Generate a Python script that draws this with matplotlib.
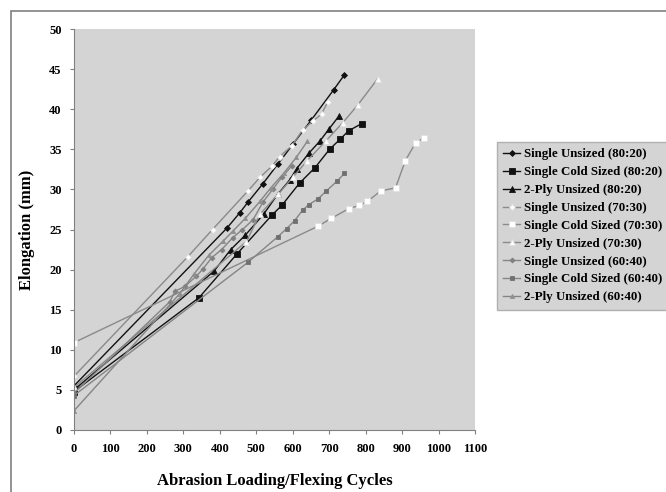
import matplotlib.pyplot as plt

plt.rcParams["font.family"] = ["Liberation Serif", "DejaVu Serif"]
plt.rcParams["font.weight"] = "bold"

# cycles / elongation per series
su_8020_x = [0, 420, 455, 477, 518, 560, 600, 650, 712, 742]
su_8020_y = [5.5, 25.2, 27.1, 28.4, 30.7, 33.2, 35.6, 38.6, 42.4, 44.3]

scs_8020_x = [0, 343, 446, 543, 570, 619, 661, 701, 731, 753, 789]
scs_8020_y = [4.8, 16.5, 21.9, 26.8, 28.0, 30.8, 32.7, 35.0, 36.3, 37.3, 38.2]

ply_8020_x = [0, 384, 430, 470, 520, 559, 592, 611, 644, 674, 699, 726]
ply_8020_y = [5.0, 19.8, 22.5, 24.3, 26.9, 29.4, 31.2, 32.6, 34.5, 36.0, 37.5, 39.1]

su_7030_x = [0, 312, 380, 477, 510, 543, 564, 597, 627, 655, 679, 696]
su_7030_y = [6.7, 21.6, 25.0, 29.8, 31.5, 32.9, 34.1, 35.4, 37.4, 38.5, 39.4, 40.9]

scs_7030_x = [0, 669, 706, 754, 782, 805, 841, 882, 909, 937, 959]
scs_7030_y = [10.9, 25.4, 26.4, 27.6, 28.0, 28.5, 29.8, 30.2, 33.6, 35.8, 36.4]

ply_7030_x = [0, 473, 510, 560, 600, 640, 690, 737, 778, 833]
ply_7030_y = [5.3, 23.5, 26.9, 29.4, 31.5, 33.6, 36.0, 38.3, 40.5, 43.8]

su_6040_x = [0, 263, 277, 304, 336, 354, 378, 405, 436, 462, 491, 518, 545, 570, 597]
su_6040_y = [4.6, 16.0, 17.3, 17.9, 19.2, 20.1, 21.5, 22.5, 24.0, 25.0, 26.2, 28.4, 30.0, 31.5, 32.9]

scs_6040_x = [0, 477, 559, 583, 605, 627, 644, 669, 692, 721, 742]
scs_6040_y = [4.3, 20.9, 24.1, 25.1, 26.1, 27.4, 28.1, 28.8, 29.8, 31.0, 32.0]

ply_6040_x = [0, 290, 330, 370, 410, 436, 470, 510, 540, 575, 610, 640]
ply_6040_y = [2.4, 17.0, 19.5, 21.8, 23.6, 24.8, 26.4, 28.5, 30.2, 32.0, 34.0, 36.0]

labels = [
    "Single Unsized (80:20)",
    "Single Cold Sized (80:20)",
    "2-Ply Unsized (80:20)",
    "Single Unsized (70:30)",
    "Single Cold Sized (70:30)",
    "2-Ply Unsized (70:30)",
    "Single Unsized (60:40)",
    "Single Cold Sized (60:40)",
    "2-Ply Unsized (60:40)",
]
xs = [su_8020_x, scs_8020_x, ply_8020_x, su_7030_x, scs_7030_x, ply_7030_x,
      su_6040_x, scs_6040_x, ply_6040_x]
ys = [su_8020_y, scs_8020_y, ply_8020_y, su_7030_y, scs_7030_y, ply_7030_y,
      su_6040_y, scs_6040_y, ply_6040_y]

styles = [
    dict(color="#111111", marker="D", ms=3, mfc="#111111", mec="#111111"),
    dict(color="#111111", marker="s", ms=4.5, mfc="#111111", mec="#111111"),
    dict(color="#111111", marker="^", ms=4.5, mfc="#111111", mec="#111111"),
    dict(color="#8a8a8a", marker="D", ms=3, mfc="white", mec="#e0e0e0"),
    dict(color="#8a8a8a", marker="s", ms=3.8, mfc="white", mec="#e0e0e0"),
    dict(color="#8a8a8a", marker="^", ms=3.8, mfc="white", mec="#e0e0e0"),
    dict(color="#858585", marker="D", ms=2.5, mfc="#808080", mec="#808080"),
    dict(color="#858585", marker="s", ms=3.5, mfc="#707070", mec="#707070"),
    dict(color="#858585", marker="^", ms=3, mfc="#909090", mec="#909090"),
]

fig = plt.figure(figsize=(6.66, 4.92), dpi=100)
fig.patches.append(plt.Rectangle((11 / 666, -0.01), 1.1, (492 - 11) / 492 + 0.01,
                                 transform=fig.transFigure, fill=False,
                                 edgecolor="#808080", lw=1.2))
ax = fig.add_axes([74 / 666, (492 - 430) / 492, (475 - 74) / 666, (430 - 29) / 492])
ax.set_facecolor("#d4d4d4")

for x, y, lab, st in zip(xs, ys, labels, styles):
    ax.plot(x, y, label=lab, lw=1.0, mew=0.6, **st)

ax.set_xlim(0, 1100)
ax.set_ylim(0, 50)
ax.set_xticks(range(0, 1101, 100))
ax.set_yticks(range(0, 51, 5))
ax.tick_params(labelsize=9, length=3, color="#808080", pad=6)
for s in ["top", "right"]:
    ax.spines[s].set_visible(False)
for s in ["left", "bottom"]:
    ax.spines[s].set_color("#808080")

ax.set_xlabel("Abrasion Loading/Flexing Cycles", fontsize=12, fontweight="bold", labelpad=13)
ax.set_ylabel("Elongation (mm)", fontsize=12, fontweight="bold", labelpad=10)

leg = fig.legend(loc="upper left", bbox_to_anchor=(497 / 666, (492 - 142) / 492),
                 fontsize=9.3, frameon=True, fancybox=False, handlelength=1.3,
                 handletextpad=0.3, borderpad=0.5, labelspacing=0.45,
                 borderaxespad=0)
leg.get_frame().set_facecolor("#d4d4d4")
leg.get_frame().set_edgecolor("#b0b0b0")
leg.get_frame().set_alpha(1)
for t in leg.get_texts():
    t.set_fontweight("bold")

fig.savefig("out.png", dpi=100)
